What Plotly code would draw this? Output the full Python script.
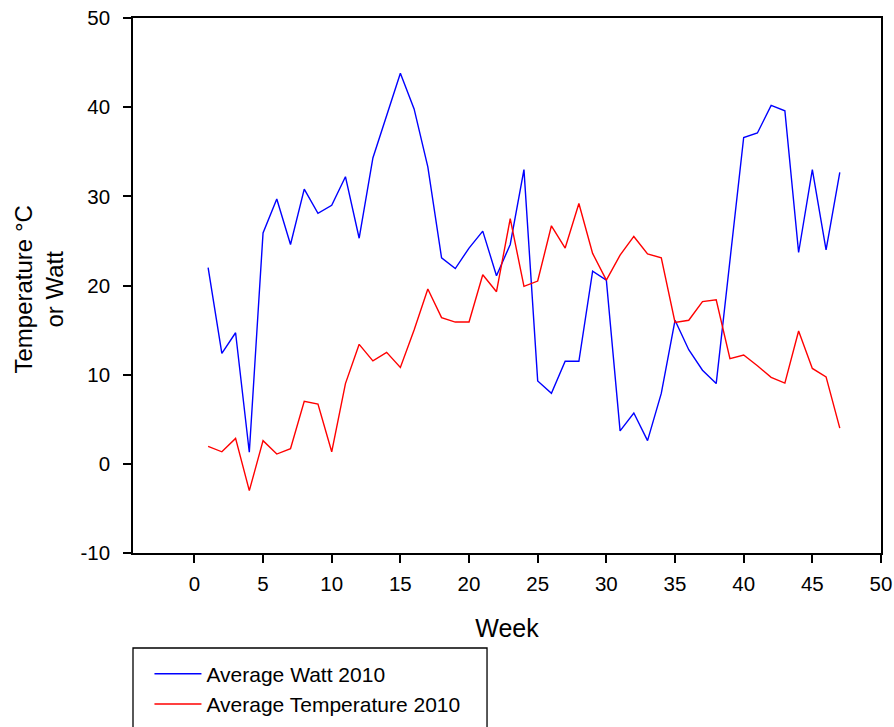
import plotly.graph_objects as go

# Weekly averages for 2010
weeks = list(range(1, 48))
avg_watt_2010 = [
    22.0, 12.4, 14.7, 1.3, 25.9, 29.7, 24.6, 30.8, 28.1, 29.0,
    32.2, 25.3, 34.3, 39.1, 43.8, 39.8, 33.3, 23.1, 21.9, 24.2,
    26.1, 21.1, 24.6, 33.0, 9.3, 7.9, 11.5, 11.5, 21.6, 20.6,
    3.7, 5.7, 2.6, 7.9, 16.1, 12.8, 10.5, 9.0, 23.0, 36.6,
    37.1, 40.2, 39.6, 23.7, 33.0, 24.0, 32.7,
]
avg_temp_2010 = [
    1.95, 1.35, 2.85, -3.0, 2.6, 1.1, 1.7, 7.0, 6.7, 1.35,
    9.0, 13.4, 11.55, 12.5, 10.8, 15.0, 19.6, 16.4, 15.9, 15.9,
    21.2, 19.3, 27.5, 19.9, 20.5, 26.7, 24.2, 29.2, 23.6, 20.6,
    23.4, 25.5, 23.55, 23.1, 15.85, 16.1, 18.2, 18.4, 11.8, 12.2,
    11.0, 9.7, 9.05, 14.9, 10.7, 9.75, 4.0,
]
x_ticks = list(range(0, 51, 5))
y_ticks = list(range(-10, 51, 10))
y_tick_labels = ["-10", "0", "10", "20", "30", "40", "50"]
y_title = "Temperature °C<br>or Watt"

FONT = "Liberation Sans, Arial, sans-serif"

fig = go.Figure()
fig.add_trace(go.Scatter(
    x=weeks, y=avg_watt_2010, mode="lines", name="Average Watt 2010",
    line=dict(color="#0000ff", width=1.4),
))
fig.add_trace(go.Scatter(
    x=weeks, y=avg_temp_2010, mode="lines", name="Average Temperature 2010",
    line=dict(color="#ff0000", width=1.4),
))

axis_common = dict(
    showgrid=False, zeroline=False, showline=True, linecolor="black",
    linewidth=1.5, mirror=True, ticks="outside", ticklen=8, tickwidth=1.5,
    tickcolor="black", automargin=False,
    tickfont=dict(family=FONT, size=20.5, color="black"),
)

fig.update_xaxes(
    range=[-4.47, 50], tickmode="array", tickvals=x_ticks,
    ticklabelstandoff=4,
    title=dict(text="Week", font=dict(family=FONT, size=25, color="black"),
               standoff=25),
    **axis_common,
)
fig.update_yaxes(
    range=[-10, 50], tickmode="array", tickvals=y_ticks,
    ticktext=y_tick_labels, ticklabelstandoff=9,
    **axis_common,
)

# Two-line rotated y-axis title placed left of the tick labels
fig.add_annotation(
    text=y_title, xref="paper", yref="paper", x=-0.1263, y=0.4916,
    xanchor="center", yanchor="middle", textangle=-90, showarrow=False,
    font=dict(family=FONT, size=24, color="black"), align="center",
)

# Framed legend box beneath the plot
fig.add_shape(
    type="rect", xref="paper", yref="paper",
    x0=0, x1=0.4733, y0=-0.45, y1=-0.1776,
    line=dict(color="black", width=1.3), fillcolor="rgba(0,0,0,0)",
)

fig.update_layout(
    width=894, height=727,
    margin=dict(l=133, r=13, t=18, b=174, autoexpand=False),
    paper_bgcolor="white", plot_bgcolor="white",
    font=dict(family=FONT, color="black"),
    legend=dict(
        x=0.022, y=-0.188, xanchor="left", yanchor="top",
        bgcolor="rgba(0,0,0,0)", borderwidth=0,
        font=dict(family=FONT, size=21, color="black"),
        itemwidth=47, tracegroupgap=0,
    ),
    showlegend=True,
)

fig.write_html("out.html")
